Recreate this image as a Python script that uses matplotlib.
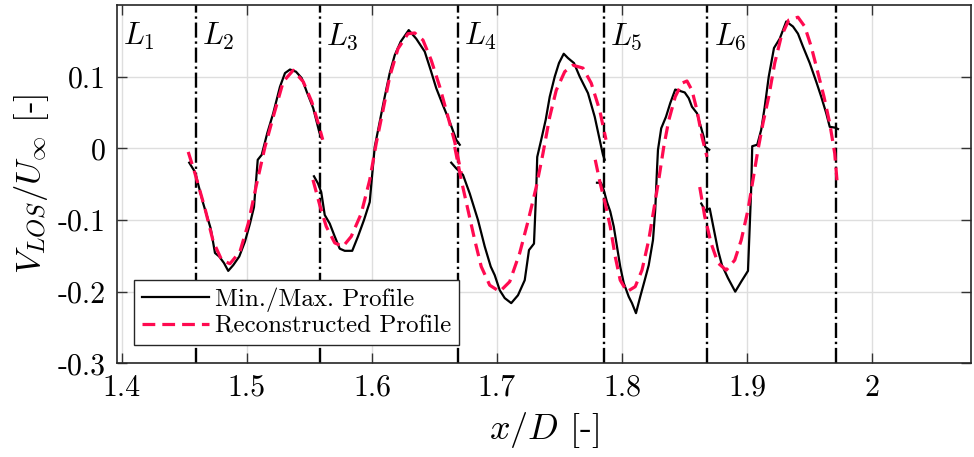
import matplotlib
matplotlib.use("Agg")
import matplotlib.pyplot as plt
import matplotlib.transforms as mtransforms

plt.rcParams["font.family"] = ["cmr10", "DejaVu Serif"]
plt.rcParams["mathtext.fontset"] = "cm"
plt.rcParams["axes.unicode_minus"] = False
plt.rcParams["axes.formatter.use_mathtext"] = True

# Segment boundaries (x/D) and their labels
boundaries = [1.396, 1.4590, 1.5584, 1.6688, 1.7856, 1.8683, 1.9710]
seg_labels = ["$L_1$", "$L_2$", "$L_3$", "$L_4$", "$L_5$", "$L_6$"]

# Min./Max. profile, one piece per segment
meas_x_2 = [1.4538, 1.4584, 1.4650, 1.4710, 1.4744, 1.4778, 1.4816, 1.4850, 1.4890,
            1.4938, 1.4984, 1.5024, 1.5056, 1.5086, 1.5118, 1.5162, 1.5210, 1.5264,
            1.5304, 1.5344, 1.5392, 1.5438, 1.5478, 1.5530, 1.5578, 1.5598]
meas_y_2 = [-0.020, -0.033, -0.077, -0.112, -0.146, -0.151, -0.160, -0.171, -0.163,
            -0.151, -0.130, -0.105, -0.082, -0.016, -0.009, 0.021, 0.049, 0.086,
            0.105, 0.110, 0.107, 0.098, 0.079, 0.056, 0.023, 0.014]

meas_x_3 = [1.5536, 1.5568, 1.5594, 1.5622, 1.5662, 1.5702, 1.5742, 1.5782, 1.5842,
            1.5888, 1.5936, 1.5982, 1.6000, 1.6022, 1.6054, 1.6096, 1.6142, 1.6182,
            1.6230, 1.6294, 1.6354, 1.6422, 1.6470, 1.6514, 1.6568, 1.6622, 1.6674,
            1.6702]
meas_y_3 = [-0.039, -0.049, -0.061, -0.093, -0.105, -0.123, -0.140, -0.143, -0.143,
            -0.123, -0.100, -0.075, -0.040, 0.002, 0.030, 0.067, 0.105, 0.130,
            0.149, 0.165, 0.153, 0.135, 0.109, 0.084, 0.060, 0.037, 0.012, 0.005]

meas_x_4 = [1.6634, 1.6674, 1.6728, 1.6782, 1.6848, 1.6902, 1.6950, 1.6982, 1.7022,
            1.7062, 1.7114, 1.7168, 1.7222, 1.7256, 1.7296, 1.7314, 1.7322, 1.7354,
            1.7390, 1.7422, 1.7462, 1.7496, 1.7534, 1.7568, 1.7616, 1.7662, 1.7728,
            1.7782, 1.7834, 1.7848, 1.7862]
meas_y_4 = [-0.020, -0.028, -0.037, -0.063, -0.100, -0.137, -0.165, -0.177, -0.198,
            -0.209, -0.216, -0.205, -0.184, -0.142, -0.133, -0.058, -0.012, 0.012,
            0.040, 0.072, 0.100, 0.119, 0.132, 0.126, 0.119, 0.100, 0.077,
            0.044, 0.002, -0.009, -0.016]

meas_x_5 = [1.7800, 1.7832, 1.7854, 1.7880, 1.7906, 1.7934, 1.7960, 1.7986, 1.8014,
            1.8054, 1.8080, 1.8112, 1.8146, 1.8182, 1.8214, 1.8248, 1.8266, 1.8280,
            1.8288, 1.8314, 1.8352, 1.8386, 1.8426, 1.8466, 1.8502, 1.8534, 1.8560,
            1.8600, 1.8626, 1.8654, 1.8666, 1.8698]
meas_y_5 = [-0.048, -0.048, -0.058, -0.075, -0.088, -0.109, -0.137, -0.165, -0.188,
            -0.207, -0.216, -0.230, -0.207, -0.184, -0.163, -0.128, -0.086, -0.030,
            -0.002, 0.028, 0.044, 0.063, 0.082, 0.080, 0.078, 0.070, 0.058,
            0.049, 0.033, 0.016, 0.002, -0.002]

meas_x_6 = [1.8634, 1.8666, 1.8702, 1.8736, 1.8768, 1.8800, 1.8848, 1.8906, 1.8954,
            1.9008, 1.9022, 1.9034, 1.9042, 1.9082, 1.9114, 1.9142, 1.9174, 1.9194,
            1.9216, 1.9262, 1.9314, 1.9368, 1.9408, 1.9448, 1.9502, 1.9554, 1.9594,
            1.9634, 1.9662, 1.9702, 1.9728]
meas_y_6 = [-0.077, -0.087, -0.084, -0.114, -0.142, -0.163, -0.181, -0.200, -0.186,
            -0.171, -0.109, -0.054, 0.003, 0.005, 0.026, 0.058, 0.100, 0.119,
            0.140, 0.153, 0.177, 0.170, 0.160, 0.142, 0.119, 0.093, 0.072,
            0.049, 0.030, 0.029, 0.027]

# Reconstructed profile, one piece per segment
rec_x_2 = [1.4530, 1.4584, 1.4664, 1.4730, 1.4798, 1.4864, 1.4944, 1.5010, 1.5078,
           1.5144, 1.5210, 1.5290, 1.5370, 1.5450, 1.5518, 1.5570, 1.5606]
rec_y_2 = [-0.005, -0.035, -0.084, -0.130, -0.156, -0.161, -0.144, -0.105, -0.049,
           0.002, 0.044, 0.093, 0.109, 0.093, 0.065, 0.035, 0.012]

rec_x_3 = [1.5528, 1.5582, 1.5634, 1.5702, 1.5768, 1.5834, 1.5914, 1.5982, 1.6034,
           1.6088, 1.6142, 1.6208, 1.6288, 1.6342, 1.6408, 1.6474, 1.6542, 1.6608,
           1.6662, 1.6714]
rec_y_3 = [-0.044, -0.079, -0.109, -0.132, -0.137, -0.123, -0.091, -0.044, 0.007,
           0.053, 0.100, 0.139, 0.160, 0.161, 0.151, 0.123, 0.086, 0.044,
           0.009, -0.035]

rec_x_4 = [1.6662, 1.6714, 1.6768, 1.6822, 1.6874, 1.6942, 1.7022, 1.7102, 1.7182,
           1.7248, 1.7314, 1.7368, 1.7422, 1.7474, 1.7542, 1.7608, 1.7688, 1.7754,
           1.7822, 1.7872]
rec_y_4 = [0.002, -0.044, -0.086, -0.128, -0.165, -0.191, -0.200, -0.186, -0.146,
           -0.102, -0.054, -0.007, 0.044, 0.081, 0.107, 0.116, 0.112, 0.091,
           0.053, 0.012]

rec_x_5 = [1.7786, 1.7826, 1.7866, 1.7906, 1.7946, 1.7986, 1.8040, 1.8106, 1.8160,
           1.8214, 1.8254, 1.8294, 1.8334, 1.8374, 1.8426, 1.8480, 1.8520, 1.8560,
           1.8600, 1.8640, 1.8680]
rec_y_5 = [-0.016, -0.049, -0.077, -0.109, -0.151, -0.184, -0.200, -0.193, -0.170,
           -0.128, -0.086, -0.044, 0.002, 0.039, 0.072, 0.091, 0.094, 0.081,
           0.053, 0.016, -0.012]

rec_x_6 = [1.8622, 1.8662, 1.8714, 1.8768, 1.8834, 1.8902, 1.8954, 1.9008, 1.9048,
           1.9088, 1.9128, 1.9174, 1.9222, 1.9274, 1.9334, 1.9408, 1.9462, 1.9514,
           1.9568, 1.9616, 1.9662, 1.9702, 1.9722]
rec_y_6 = [-0.054, -0.095, -0.133, -0.160, -0.170, -0.156, -0.128, -0.086, -0.044,
           -0.002, 0.035, 0.072, 0.119, 0.156, 0.179, 0.183, 0.170, 0.142,
           0.105, 0.072, 0.035, -0.007, -0.049]

x_ticks = [1.4, 1.5, 1.6, 1.7, 1.8, 1.9, 2.0]
x_tick_labels = ["1.4", "1.5", "1.6", "1.7", "1.8", "1.9", "2"]
y_ticks = [-0.3, -0.2, -0.1, 0.0, 0.1]
y_tick_labels = ["-0.3", "-0.2", "-0.1", "0", "0.1"]

meas_pieces = [(meas_x_2, meas_y_2), (meas_x_3, meas_y_3), (meas_x_4, meas_y_4),
               (meas_x_5, meas_y_5), (meas_x_6, meas_y_6)]
rec_pieces = [(rec_x_2, rec_y_2), (rec_x_3, rec_y_3), (rec_x_4, rec_y_4),
              (rec_x_5, rec_y_5), (rec_x_6, rec_y_6)]

red = "#FF0A50"

fig = plt.figure(figsize=(9.74, 4.57), dpi=100)
ax = fig.add_axes([0.1201, 0.205, 0.8768, 0.784])

for xb in boundaries[1:]:
    ax.axvline(xb, color="black", linestyle="-.", linewidth=1.7, zorder=2)

for i, (xs, ys) in enumerate(meas_pieces):
    ax.plot(xs, ys, color="black", linewidth=1.6, zorder=3,
            label="Min./Max. Profile" if i == 0 else None)
for i, (xs, ys) in enumerate(rec_pieces):
    ax.plot(xs, ys, color=red, linewidth=2.3, linestyle=(0, (4.0, 2.2)), zorder=4,
            label="Reconstructed Profile" if i == 0 else None)

trans = mtransforms.blended_transform_factory(ax.transData, ax.transAxes)
for xb, lab in zip(boundaries[:-1], seg_labels):
    ax.text(xb + 0.005, 0.912, lab, transform=trans, fontsize=22,
            ha="left", va="center")

ax.set_xlim(1.396, 2.0792)
ax.set_ylim(-0.3, 0.2)
ax.set_xticks(x_ticks, labels=x_tick_labels)
ax.set_yticks(y_ticks, labels=y_tick_labels)
ax.tick_params(direction="in", length=7, width=1.0, top=True, right=True,
               labelsize=21.5, pad=8, color="#333333")
ax.grid(True, color="#dedede", linewidth=1.0)
ax.set_axisbelow(True)
for sp in ax.spines.values():
    sp.set_linewidth(1.2)
    sp.set_color("#262626")

ax.set_xlabel(r"$x/D$ [-]", fontsize=26, labelpad=6)
ax.set_ylabel(r"$V_{LOS}/U_\infty$ [-]", fontsize=25, labelpad=5)

leg = ax.legend(loc="lower left", bbox_to_anchor=(0.02, 0.05), borderaxespad=0,
                fontsize=18, handlelength=2.7, handletextpad=0.25,
                borderpad=0.3, labelspacing=0.15, fancybox=False, framealpha=1)
leg.get_frame().set_edgecolor("#262626")
leg.get_frame().set_linewidth(1.0)

fig.savefig("out.png", dpi=100)
